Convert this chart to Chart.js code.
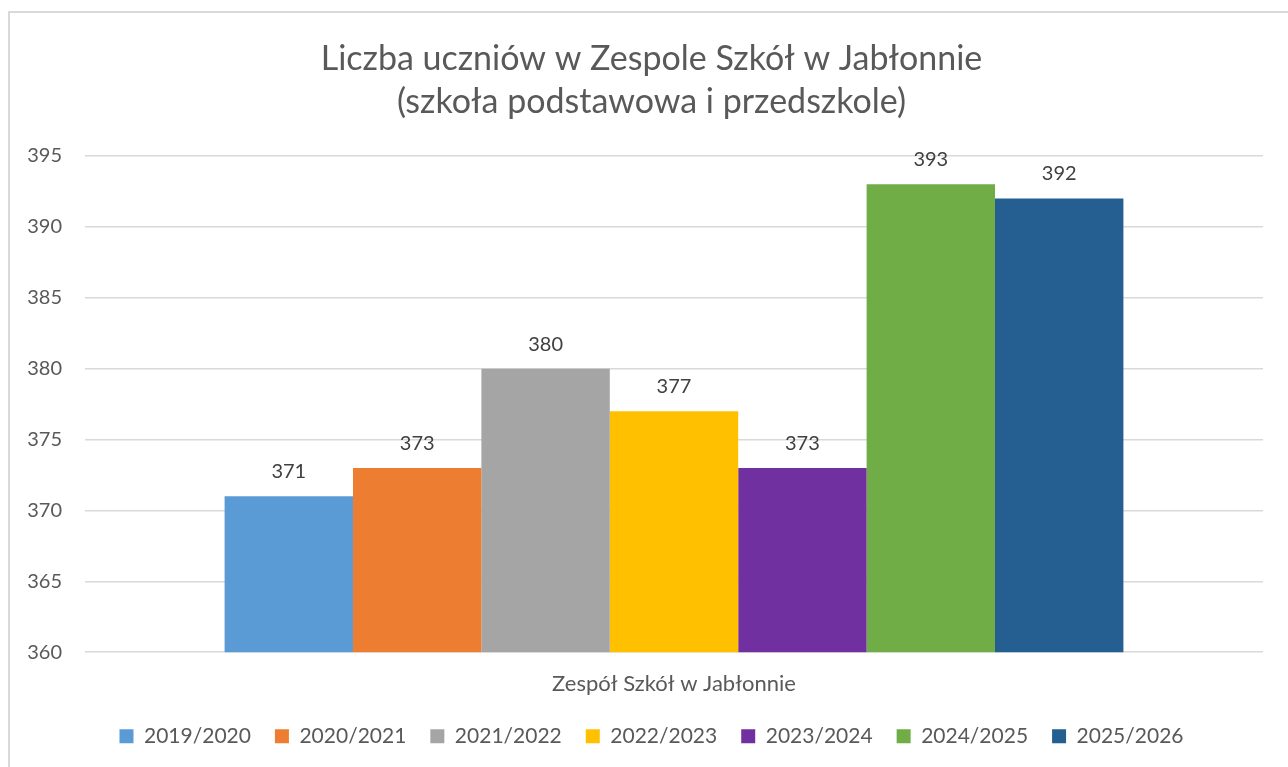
<!DOCTYPE html>
<html>
<head>
<meta charset="utf-8">
<script src="https://cdn.jsdelivr.net/npm/chart.js@4"></script>
<style>
  html, body { margin: 0; padding: 0; background: #fff; overflow: hidden; }
  #box {
    position: absolute; left: 8px; top: 11px;
    width: 1283px; height: 760px;
    border: 2px solid #D9D9D9; background: #fff;
  }
</style>
</head>
<body>
<div id="box"><canvas id="myChart" width="1283" height="760"></canvas></div>
<script>
// dane z wykresu
const category = ['Zespół Szkół w Jabłonnie'];
const years = ['2019/2020', '2020/2021', '2021/2022', '2022/2023', '2023/2024', '2024/2025', '2025/2026'];
const students = [371, 373, 380, 377, 373, 393, 392];
const colors = ['#5B9BD5', '#ED7D31', '#A5A5A5', '#FFC000', '#7030A0', '#70AD47', '#255E91'];
const yTicks = [360, 365, 370, 375, 380, 385, 390, 395];

const FONT = 'Lato';

// etykiety wartości nad słupkami
const valueLabels = {
    id: 'valueLabels',
    afterDatasetsDraw(chart) {
        const ctx = chart.ctx;
        ctx.save();
        ctx.font = '20px ' + FONT;
        ctx.fillStyle = '#404040';
        ctx.textAlign = 'center';
        ctx.textBaseline = 'alphabetic';
        chart.data.datasets.forEach((ds, i) => {
            const meta = chart.getDatasetMeta(i);
            meta.data.forEach((bar, j) => {
                ctx.fillText(ds.data[j], bar.x, bar.y - 18);
            });
        });
        ctx.restore();
    }
};

const ctx = document.getElementById('myChart').getContext('2d');
const chart = new Chart(ctx, {
    type: 'bar',
    data: {
        labels: category,
        datasets: years.map((y, i) => ({
            label: y,
            data: [students[i]],
            backgroundColor: colors[i],
            borderWidth: 0,
            categoryPercentage: 0.763,
            barPercentage: 1
        }))
    },
    options: {
        responsive: false,
        animation: false,
        layout: { padding: { left: 0, right: 0, top: 0, bottom: 16.3 } },
        scales: {
            x: {
                grid: { display: false, drawTicks: false },
                border: { display: false },
                ticks: { color: '#595959', font: { family: FONT, size: 22 }, padding: 19 },
                afterFit: s => { s.height = 49.5; }
            },
            y: {
                min: 360,
                max: 395,
                afterBuildTicks: s => { s.ticks = yTicks.map(v => ({ value: v })); },
                grid: { color: '#D9D9D9', lineWidth: 1.5, drawTicks: false },
                border: { display: false },
                ticks: { color: '#595959', font: { family: FONT, size: 20 }, padding: 23 },
                afterFit: s => { s.width = 75; }
            },
            // pusta oś po prawej - tylko margines
            yR: {
                position: 'right',
                grid: { display: false, drawTicks: false },
                border: { display: false },
                ticks: { display: false },
                afterFit: s => { s.width = 30; }
            }
        },
        plugins: {
            title: {
                display: true,
                text: ['Liczba uczniów w Zespole Szkół w Jabłonnie', '(szkoła podstawowa i przedszkole)'],
                color: '#595959',
                font: { family: FONT, size: 34, weight: 'normal', lineHeight: 1.27 },
                padding: { top: 24, bottom: 32.6 }
            },
            legend: {
                position: 'bottom',
                labels: {
                    color: '#595959',
                    font: { family: FONT, size: 21 },
                    boxWidth: 14,
                    boxHeight: 14,
                    padding: 24
                }
            },
            tooltip: { enabled: false }
        }
    },
    plugins: [valueLabels]
});
</script>
</body>
</html>
